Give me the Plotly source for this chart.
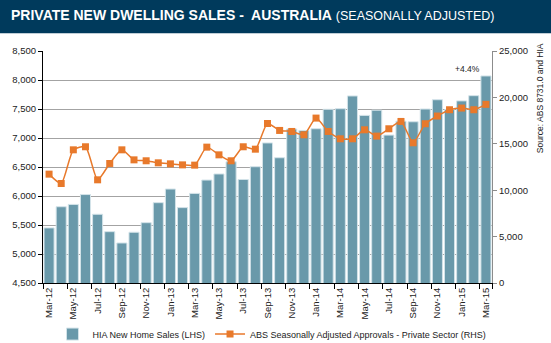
import plotly.graph_objects as go

# Monthly categories, Mar-12 to Mar-15
months = ["Mar-12", "Apr-12", "May-12", "Jun-12", "Jul-12", "Aug-12", "Sep-12", "Oct-12",
          "Nov-12", "Dec-12", "Jan-13", "Feb-13", "Mar-13", "Apr-13", "May-13", "Jun-13",
          "Jul-13", "Aug-13", "Sep-13", "Oct-13", "Nov-13", "Dec-13", "Jan-14", "Feb-14",
          "Mar-14", "Apr-14", "May-14", "Jun-14", "Jul-14", "Aug-14", "Sep-14", "Oct-14",
          "Nov-14", "Dec-14", "Jan-15", "Feb-15", "Mar-15"]

# HIA new home sales (left axis)
hia_sales = [5450, 5815, 5855, 6025, 5685, 5385, 5190, 5375, 5540, 5885, 6120, 5800,
             6045, 6275, 6380, 6590, 6285, 6505, 6915, 6660, 7155, 7130, 7160, 7495,
             7505, 7725, 7390, 7480, 7050, 7290, 7280, 7500, 7660, 7490, 7640, 7730, 8070]

# ABS seasonally adjusted private sector approvals (right axis)
abs_approvals = [11730, 10720, 14350, 14680, 11120, 12880, 14350, 13270, 13170, 12950,
                 12840, 12730, 12700, 14640, 13810, 13170, 14680, 14420, 17190, 16440,
                 16330, 15970, 17770, 16330, 15540, 15540, 16510, 15830, 16620, 17410,
                 15110, 17160, 17990, 18670, 18850, 18670, 19250]

left_ticks = list(range(4500, 8501, 500))
right_ticks = list(range(0, 25001, 5000))

FONT = "Liberation Sans, Arial, sans-serif"
TXT = "#222222"

fig = go.Figure()

fig.add_trace(go.Bar(
    x=months, y=hia_sales, name="HIA New Home Sales (LHS)",
    marker=dict(color="#6999aa", line=dict(color="#d3e3e9", width=1)),
    yaxis="y",
))

fig.add_trace(go.Scatter(
    x=months, y=abs_approvals, name="ABS Seasonally Adjusted Approvals - Private Sector (RHS)",
    mode="lines+markers",
    line=dict(color="#e8792b", width=1.5, shape="spline", smoothing=0.6),
    marker=dict(symbol="square", size=7, color="#e8792b"),
    yaxis="y2",
))

fig.update_layout(
    width=551, height=343,
    margin=dict(l=43, r=59, t=51, b=60),
    paper_bgcolor="white", plot_bgcolor="white",
    font=dict(family=FONT, size=9.5, color=TXT),
    bargap=0.17,
    showlegend=True,
    legend=dict(orientation="h", x=0.51, xanchor="center",
                yref="container", y=0.026, yanchor="middle",
                font=dict(size=9, color=TXT), itemwidth=30,
                tracegroupgap=0, bgcolor="rgba(0,0,0,0)"),
    xaxis=dict(
        type="category", range=[-0.5, len(months) - 0.5], autorange=False,
        tickvals=months[::2], ticktext=months[::2],
        tickangle=-90, ticks="outside", tickson="boundaries", ticklen=5,
        tickcolor="black", showline=True, linecolor="black", linewidth=1,
        showgrid=False, tickfont=dict(size=9.5, color=TXT),
        automargin=False,
    ),
    yaxis=dict(
        range=[4500, 8500], autorange=False, tickvals=left_ticks, tickformat=",",
        showgrid=True, gridcolor="#a3a3a3", gridwidth=1,
        showline=True, linecolor="black", linewidth=1,
        ticks="outside", ticklen=4, tickcolor="black",
        tickfont=dict(size=9.5, color=TXT), zeroline=False,
        automargin=False,
    ),
    yaxis2=dict(
        range=[0, 25000], autorange=False, tickvals=right_ticks, tickformat=",",
        overlaying="y", side="right", showgrid=False,
        showline=True, linecolor="#8c8c8c", linewidth=1,
        ticks="outside", ticklen=4, tickcolor="#8c8c8c",
        tickfont=dict(size=9.5, color=TXT), zeroline=False,
        automargin=False,
    ),
    shapes=[dict(type="rect", xref="paper", yref="paper",
                 x0=-0.2, x1=1.3, y0=1.0763, y1=1.3,
                 fillcolor="#003a5c", line=dict(width=0), layer="above")],
    annotations=[
        dict(text="<b>PRIVATE NEW DWELLING SALES -  AUSTRALIA</b> "
                  "<span style='font-size:12.5px'>(SEASONALLY ADJUSTED)</span>",
             xref="paper", yref="paper", x=-0.0757, y=1.155, xanchor="left", yanchor="middle",
             showarrow=False, font=dict(size=14, color="white")),
        dict(text="Source: ABS 8731.0 and HIA", textangle=-90,
             xref="paper", yref="paper", x=1.107, y=0.797, xanchor="center", yanchor="middle",
             showarrow=False, font=dict(size=8.5, color=TXT)),
        dict(text="+4.4%", xref="paper", yref="paper", x=0.9465, y=0.922,
             xanchor="center", yanchor="middle", showarrow=False,
             font=dict(size=8.5, color=TXT)),
    ],
)

fig.write_html("out.html")
